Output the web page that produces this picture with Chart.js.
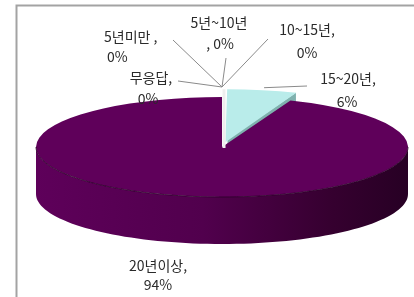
<!DOCTYPE html>
<html><head><meta charset="utf-8">
<script src="https://cdn.jsdelivr.net/npm/chart.js@4/dist/chart.umd.min.js"></script>
<style>html,body{margin:0;padding:0;background:#fff;overflow:hidden}#wrap{position:relative;width:414px;height:297px}</style>
</head><body><div id="wrap"><canvas id="c" width="414" height="297"></canvas></div>
<script>
// ---- data ----
const categories = ['5년미만', '5년~10년', '10~15년', '15~20년', '20년이상', '무응답'];
const values = [0, 0, 0, 6, 94, 0];

// ---- styles ----
const sliceColors = ['#b9ecea', '#b9ecea', '#b9ecea', '#b9ecea', '#5f005a', '#ffffff'];
const cutColors   = ['#7fb1ae', '#7fb1ae', '#7fb1ae', '#7fb1ae', '#3a0036', '#dddddd'];
const explode     = [0, 0, 0, 48, 0, 0];
const CX = 222, CY = 147, RX = 186, RY = 50, DEPTH = 47;
const FONT = '14px "Noto Sans CJK KR", "Noto Sans", sans-serif';

// label layout: text line centres / starts and leader-line start points
const labelLayout = [
  {l1: [104, 37, 'left'], l2: [107, 57, 'left'], sep: ' ,', lead: [173, 40]},
  {l1: [219, 23, 'center'], l2: [220, 44, 'center'], sep: '', pre2: ', ', lead: [226, 58]},
  {l1: [307, 30, 'center'], l2: [307, 53, 'center'], sep: ',', lead: [268, 39]},
  {l1: [348, 79, 'center'], l2: [347, 102, 'center'], sep: ',', lead: [307, 86]},
  {l1: [158, 266, 'center'], l2: [158, 285, 'center'], sep: ',', lead: null},
  {l1: [151, 78, 'center'], l2: [148, 99, 'center'], sep: ',', lead: [178, 81]}
];

function geo(chart) {
  const meta = chart.getDatasetMeta(0);
  const a = meta.data[4];
  const R = a.outerRadius;
  return {meta, R, ax: a.x, ay: a.y, sx: RX / R, sy: RY / R};
}
function shiftOf(a) {
  const off = (a.options.offset || 0) / 4;
  const circ = a.endAngle - a.startAngle;
  const fix = 1 - Math.sin(Math.min(Math.PI, circ || 0));
  const d = off + off * fix;
  const h = (a.startAngle + a.endAngle) / 2;
  return [Math.cos(h) * d, Math.sin(h) * d];
}
function scr(g, px, py) { return [CX + (px - g.ax) * g.sx, CY + (py - g.ay) * g.sy]; }
function rim(g, a, t, f) {
  const s = shiftOf(a); f = f || 1;
  return scr(g, a.x + Math.cos(t) * g.R * f + s[0], a.y + Math.sin(t) * g.R * f + s[1]);
}

const pie3d = {
  id: 'pie3d',
  beforeDraw(chart) {
    const ctx = chart.ctx;
    ctx.save();
    ctx.strokeStyle = '#a3a3a3';
    ctx.lineWidth = 2;
    ctx.beginPath();
    ctx.moveTo(16.5, 297); ctx.lineTo(16.5, 5.5); ctx.lineTo(414, 5.5);
    ctx.stroke();
    ctx.restore();
  },
  beforeDatasetsDraw(chart) {
    const ctx = chart.ctx, g = geo(chart);
    ctx.save();
    // side walls (front half only)
    g.meta.data.forEach((a, i) => {
      if (!values[i]) return;
      const t0 = Math.max(a.startAngle, 0), t1 = Math.min(a.endAngle, Math.PI);
      if (t1 <= t0) return;
      const grad = ctx.createLinearGradient(CX - RX, 0, CX + RX, 0);
      if (i === 4) {
        grad.addColorStop(0, '#5e005a'); grad.addColorStop(0.45, '#51004d');
        grad.addColorStop(0.8, '#35002f'); grad.addColorStop(1, '#270024');
      } else { grad.addColorStop(0, cutColors[i]); grad.addColorStop(1, cutColors[i]); }
      ctx.beginPath();
      const N = 80;
      for (let k = 0; k <= N; k++) { const p = rim(g, a, t0 + (t1 - t0) * k / N); k ? ctx.lineTo(p[0], p[1]) : ctx.moveTo(p[0], p[1]); }
      for (let k = N; k >= 0; k--) { const p = rim(g, a, t0 + (t1 - t0) * k / N); ctx.lineTo(p[0], p[1] + DEPTH); }
      ctx.closePath();
      ctx.fillStyle = grad; ctx.fill();
    });
    // visible cut faces
    g.meta.data.forEach((a, i) => {
      if (!values[i]) return;
      const s = shiftOf(a);
      const c = scr(g, a.x + s[0], a.y + s[1]);
      const faces = [];
      if (Math.cos(a.endAngle) > 0.01) faces.push(a.endAngle);
      if (Math.cos(a.startAngle) < -0.01) faces.push(a.startAngle);
      faces.forEach(t => {
        const p = rim(g, a, t);
        ctx.beginPath();
        ctx.moveTo(c[0], c[1]); ctx.lineTo(p[0], p[1]);
        ctx.lineTo(p[0], p[1] + DEPTH); ctx.lineTo(c[0], c[1] + DEPTH);
        ctx.closePath(); ctx.fillStyle = cutColors[i]; ctx.fill();
      });
    });
    // flatten the pie into an ellipse
    ctx.translate(CX, CY); ctx.scale(g.sx, g.sy); ctx.translate(-g.ax, -g.ay);
  },
  afterDatasetsDraw(chart) {
    const ctx = chart.ctx, g = geo(chart);
    ctx.restore();
    ctx.save();
    const main = g.meta.data[4];
    // dark edge between top face and side wall
    ctx.beginPath();
    for (let k = 0; k <= 80; k++) { const p = rim(g, main, Math.PI * k / 80); k ? ctx.lineTo(p[0], p[1]) : ctx.moveTo(p[0], p[1]); }
    ctx.strokeStyle = 'rgba(40,0,38,0.8)'; ctx.lineWidth = 1; ctx.stroke();
    // light edge of the gap at 12 o'clock
    const cy = g.meta.data[3];
    const top = rim(g, cy, cy.startAngle);
    ctx.beginPath();
    ctx.moveTo(CX + 2, CY + 1); ctx.lineTo(CX + 2, top[1]);
    ctx.strokeStyle = '#eeeeee'; ctx.lineWidth = 3; ctx.stroke();
    // leader lines
    ctx.strokeStyle = '#8a8a8a'; ctx.lineWidth = 1;
    g.meta.data.forEach((a, i) => {
      const L = labelLayout[i];
      if (!L.lead) return;
      const mid = (a.startAngle + a.endAngle) / 2;
      const p = rim(g, a, mid, values[i] ? 1.05 : 1.2);
      ctx.beginPath(); ctx.moveTo(L.lead[0], L.lead[1]); ctx.lineTo(p[0], p[1]); ctx.stroke();
    });
    // labels
    ctx.fillStyle = '#2a2a2a'; ctx.font = FONT; ctx.textBaseline = 'middle';
    categories.forEach((c, i) => {
      const L = labelLayout[i];
      ctx.textAlign = L.l1[2]; ctx.fillText(c + L.sep, L.l1[0], L.l1[1]);
      ctx.textAlign = L.l2[2]; ctx.fillText((L.pre2 || '') + values[i] + '%', L.l2[0], L.l2[1]);
    });
    ctx.restore();
  }
};

new Chart(document.getElementById('c'), {
  type: 'pie',
  data: {
    labels: categories,
    datasets: [{
      data: values,
      backgroundColor: sliceColors,
      borderWidth: 0,
      offset: explode,
      clip: false
    }]
  },
  options: {
    responsive: false,
    animation: false,
    events: [],
    layout: {padding: 0},
    plugins: {legend: {display: false}, tooltip: {enabled: false}}
  },
  plugins: [pie3d]
});
</script>
</body></html>
